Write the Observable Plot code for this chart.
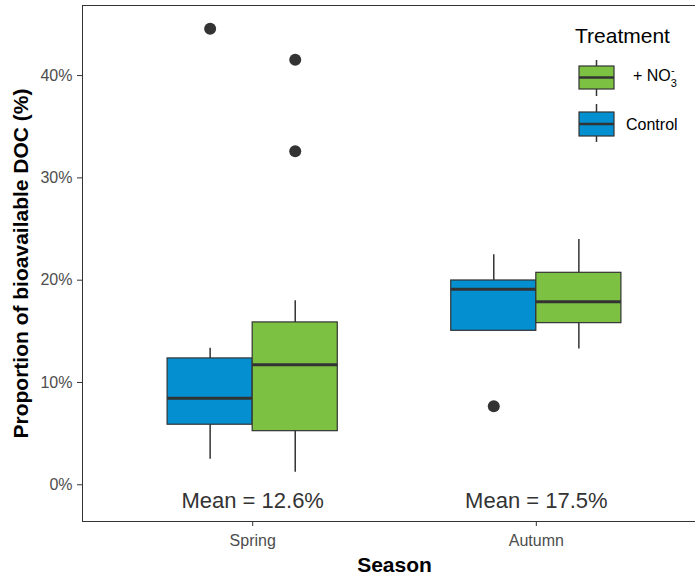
<!DOCTYPE html>
<html><head><meta charset="utf-8">
<script src="https://cdn.jsdelivr.net/npm/d3@7"></script>
<script src="https://cdn.jsdelivr.net/npm/@observablehq/plot@0.6"></script>
<style>
html,body{margin:0;padding:0;background:#fff;overflow:hidden}
#wrap{position:relative;width:695px;height:577px;overflow:hidden;font-family:"Liberation Sans",Arial,sans-serif}
#wrap svg{position:absolute;left:0;top:0;max-width:none !important}
</style></head><body><div id="wrap"></div>
<script>
// ---- data ----
const seasons = ["Spring", "Autumn"];
const treatments = ["Control", "+ NO3-"];
const treatmentColors = ["#0490D0", "#7DC143"];
// boxes, in order: Spring-Control, Spring-NO3, Autumn-Control, Autumn-NO3 (values in %)
const boxSeason    = ["Spring", "Spring", "Autumn", "Autumn"];
const boxTreatment = ["Control", "+ NO3-", "Control", "+ NO3-"];
const whiskerLow   = [2.50, 1.23, 15.05, 13.26];
const q1           = [5.87, 5.24, 15.05, 15.80];
const median       = [8.47, 11.73, 19.12, 17.89];
const q3           = [12.35, 15.87, 19.97, 20.72];
const whiskerHigh  = [13.35, 18.0, 22.48, 23.98];
// outliers
const outlierSeason    = ["Spring", "Spring", "Spring", "Autumn"];
const outlierTreatment = ["Control", "+ NO3-", "+ NO3-", "Control"];
const outlierValue     = [44.57, 41.54, 32.61, 7.68];
// means
const meanSeason = ["Spring", "Autumn"];
const meanValue  = [12.6, 17.5];
const yTicks = [0, 10, 20, 30, 40];

// ---- build ----
const dodge = t => (t === "Control" ? -0.15 : 0.15);
const pos = (s, t) => seasons.indexOf(s) + 1 + dodge(t);
const boxes = boxSeason.map((s, i) => ({
  season: s, treatment: boxTreatment[i], pos: pos(s, boxTreatment[i]),
  lo: whiskerLow[i], q1: q1[i], median: median[i], q3: q3[i], hi: whiskerHigh[i]
}));
const outliers = outlierSeason.map((s, i) => ({pos: pos(s, outlierTreatment[i]), value: outlierValue[i]}));
const means = meanSeason.map((s, i) => ({x: seasons.indexOf(s) + 1, label: `Mean = ${meanValue[i].toFixed(1)}%`}));
const half = 0.15;
const font = "Liberation Sans, Arial, sans-serif";

const chart = Plot.plot({
  width: 708, height: 577,
  marginLeft: 82, marginRight: 2, marginTop: 5, marginBottom: 56,
  style: {fontFamily: font, background: "white", overflow: "visible", maxWidth: "none"},
  x: {type: "linear", domain: [0.4, 2.6]},
  y: {domain: [-3.59, 46.85]},
  color: {domain: treatments, range: treatmentColors},
  marks: [
    Plot.frame({stroke: "#333", strokeWidth: 1}),
    Plot.ruleX(boxes, {x: "pos", y1: "lo", y2: "hi", stroke: "#333", strokeWidth: 1.5}),
    Plot.rect(boxes, {x1: d => d.pos - half, x2: d => d.pos + half, y1: "q1", y2: "q3",
      fill: "treatment", stroke: "#333", strokeWidth: 1.2}),
    Plot.ruleY(boxes, {y: "median", x1: d => d.pos - half, x2: d => d.pos + half, stroke: "#333", strokeWidth: 3}),
    Plot.dot(outliers, {x: "pos", y: "value", r: 6, fill: "#333", stroke: null}),
    Plot.text(means, {x: "x", text: "label", frameAnchor: "bottom", lineAnchor: "middle", textAnchor: "middle",
      dy: -20.3, fontSize: 22, fill: "#333"}),
    Plot.axisY({ticks: yTicks, tickFormat: d => d + "%", tickSize: 5, tickPadding: 5, fontSize: 16,
      stroke: "#333", fill: "#4D4D4D", label: null}),
    Plot.axisX({ticks: [1, 2], tickFormat: i => seasons[i - 1], tickSize: 5, tickPadding: 8, fontSize: 16,
      stroke: "#333", fill: "#4D4D4D", label: null}),
    Plot.text(["Proportion of bioavailable DOC (%)"], {frameAnchor: "left", textAnchor: "middle", lineAnchor: "middle",
      dx: -61.7, rotate: -90, fontSize: 21, fontWeight: "bold", fill: "black"}),
    Plot.text(["Season"], {frameAnchor: "bottom", textAnchor: "middle", lineAnchor: "middle",
      dy: 44, fontSize: 21, fontWeight: "bold", fill: "black"})
  ]
});
document.getElementById("wrap").appendChild(chart);

// ---- legend (overlay) ----
const lg = d3.select("#wrap").append("svg")
  .attr("width", 695).attr("height", 577)
  .style("pointer-events", "none")
  .style("font-family", font);
lg.append("text").attr("x", 575).attr("y", 43.3).attr("font-size", 21).attr("fill", "black").text("Treatment");
const keyRows = [
  {t: treatments[1], c: treatmentColors[1], top: 66, h: 23, w1: 60, w2: 96},
  {t: treatments[0], c: treatmentColors[0], top: 112, h: 24, w1: 104, w2: 142}
];
keyRows.forEach(k => {
  const g = lg.append("g");
  g.append("line").attr("x1", 596.5).attr("x2", 596.5).attr("y1", k.w1).attr("y2", k.w2)
    .attr("stroke", "#333").attr("stroke-width", 1.5);
  g.append("rect").attr("x", 579).attr("y", k.top).attr("width", 35).attr("height", k.h)
    .attr("fill", k.c).attr("stroke", "#333").attr("stroke-width", 1.2);
  g.append("line").attr("x1", 579).attr("x2", 614).attr("y1", k.top + k.h / 2).attr("y2", k.top + k.h / 2)
    .attr("stroke", "#333").attr("stroke-width", 2.5);
});
const no3 = lg.append("text").attr("x", 633).attr("y", 80.5).attr("font-size", 16).attr("fill", "black");
no3.append("tspan").text("+ NO");
no3.append("tspan").attr("font-size", 11).attr("dy", 6).text("3");
no3.append("tspan").attr("font-size", 11).attr("dx", -6).attr("dy", -13).text("-");
lg.append("text").attr("x", 626).attr("y", 130).attr("font-size", 16).attr("fill", "black").text(treatments[0]);
</script>
</body></html>
